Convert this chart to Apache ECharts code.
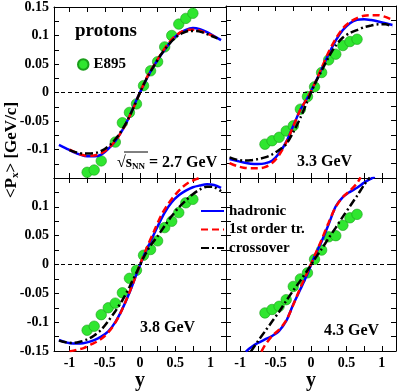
<!DOCTYPE html>
<html>
<head>
<meta charset="utf-8">
<title>protons v1</title>
<script src="https://cdn.jsdelivr.net/npm/echarts@6.0.0/dist/echarts.min.js"></script>
<style>
  html, body { margin: 0; padding: 0; background: #fff; }
  #chart { width: 399px; height: 392px; }
</style>
</head>
<body>
<div id="chart"></div>
<script>
var FONT = '"Liberation Serif", "Times New Roman", serif';

// tick and label values
var xTicks = [-1, -0.75, -0.5, -0.25, 0, 0.25, 0.5, 0.75, 1];
var xLabels = [-1, -0.5, 0, 0.5, 1];
var yTicks = [-0.15, -0.125, -0.1, -0.075, -0.05, -0.025, 0, 0.025, 0.05, 0.075, 0.1, 0.125, 0.15];
var yLabelsTop = [-0.1, -0.05, 0, 0.05, 0.1, 0.15];
var yLabelsBottom = [-0.15, -0.1, -0.05, 0, 0.05, 0.1];

// E895 data (x = rapidity, y = <Px>)
var e895_27 = [[-0.75,-0.140],[-0.65,-0.136],[-0.55,-0.120],[-0.35,-0.087],[-0.25,-0.053],[-0.15,-0.035],[-0.05,-0.020],[0.05,0.012],[0.15,0.038],[0.25,0.054],[0.35,0.080],[0.45,0.100],[0.55,0.120],[0.65,0.130],[0.75,0.139]];
var e895_33 = [[-0.65,-0.091],[-0.55,-0.085],[-0.45,-0.079],[-0.35,-0.068],[-0.25,-0.059],[-0.15,-0.030],[-0.05,-0.008],[0.05,0.009],[0.15,0.034],[0.25,0.056],[0.35,0.066],[0.45,0.081],[0.55,0.088],[0.65,0.092]];
var e895_38 = [[-0.75,-0.114],[-0.65,-0.107],[-0.55,-0.087],[-0.45,-0.075],[-0.35,-0.067],[-0.25,-0.049],[-0.15,-0.024],[-0.05,-0.010],[0.05,0.016],[0.15,0.026],[0.25,0.041],[0.35,0.064],[0.45,0.075],[0.55,0.090],[0.65,0.107],[0.75,0.113]];
var e895_43 = [[-0.65,-0.084],[-0.55,-0.078],[-0.45,-0.0725],[-0.35,-0.061],[-0.25,-0.038],[-0.15,-0.025],[-0.05,-0.0145],[0.05,0.009],[0.15,0.025],[0.25,0.048],[0.35,0.050],[0.45,0.068],[0.55,0.081],[0.65,0.087]];

// model curves, 2.7 GeV
var had_27 = [[-1.15,-0.092],[-1.05,-0.098],[-0.95,-0.104],[-0.85,-0.109],[-0.75,-0.112],[-0.65,-0.112],[-0.55,-0.109],[-0.45,-0.099],[-0.35,-0.085],[-0.25,-0.066],[-0.15,-0.042],[-0.05,-0.013],[0.05,0.013],[0.15,0.037],[0.25,0.057],[0.35,0.075],[0.45,0.091],[0.55,0.103],[0.65,0.110],[0.75,0.113],[0.85,0.111],[0.95,0.106],[1.05,0.099],[1.15,0.092]];
var fo_27 = [[-1.0,-0.100],[-0.9,-0.106],[-0.8,-0.110],[-0.7,-0.111],[-0.6,-0.109],[-0.5,-0.103],[-0.4,-0.092],[-0.3,-0.076],[-0.2,-0.055],[-0.1,-0.029],[0,0],[0.1,0.027],[0.2,0.048],[0.3,0.068],[0.4,0.086],[0.5,0.099],[0.6,0.107],[0.7,0.110],[0.8,0.110],[0.9,0.106],[1.0,0.101],[1.1,0.095]];
var co_27 = [[-1.0,-0.101],[-0.9,-0.105],[-0.8,-0.107],[-0.7,-0.107],[-0.6,-0.105],[-0.5,-0.099],[-0.4,-0.089],[-0.3,-0.074],[-0.2,-0.054],[-0.1,-0.029],[0,0],[0.1,0.026],[0.2,0.047],[0.3,0.067],[0.4,0.083],[0.5,0.096],[0.6,0.104],[0.7,0.108],[0.8,0.108],[0.9,0.105],[1.0,0.100],[1.1,0.095]];

// 3.3 GeV
var had_33 = [[-1.15,-0.117],[-1.05,-0.120],[-0.95,-0.123],[-0.85,-0.125],[-0.75,-0.1255],[-0.65,-0.1245],[-0.55,-0.120],[-0.45,-0.107],[-0.35,-0.087],[-0.25,-0.059],[-0.15,-0.031],[-0.05,-0.010],[0.05,0.014],[0.15,0.040],[0.25,0.066],[0.35,0.090],[0.45,0.108],[0.55,0.120],[0.65,0.126],[0.75,0.127],[0.85,0.1255],[0.95,0.123],[1.05,0.120],[1.15,0.117]];
var fo_33 = [[-1.15,-0.124],[-1.05,-0.129],[-0.95,-0.132],[-0.85,-0.133],[-0.75,-0.133],[-0.65,-0.131],[-0.55,-0.124],[-0.45,-0.110],[-0.35,-0.088],[-0.25,-0.060],[-0.15,-0.031],[-0.05,-0.010],[0.05,0.014],[0.15,0.042],[0.25,0.070],[0.35,0.093],[0.45,0.111],[0.55,0.122],[0.65,0.129],[0.75,0.133],[0.85,0.134],[0.95,0.134],[1.05,0.131],[1.15,0.126]];
var co_33 = [[-1.15,-0.114],[-1.05,-0.118],[-0.95,-0.1195],[-0.85,-0.119],[-0.75,-0.117],[-0.65,-0.114],[-0.55,-0.109],[-0.45,-0.101],[-0.35,-0.091],[-0.25,-0.070],[-0.15,-0.045],[-0.05,-0.016],[0.05,0.013],[0.15,0.037],[0.25,0.061],[0.35,0.081],[0.45,0.095],[0.55,0.103],[0.65,0.108],[0.75,0.113],[0.85,0.116],[0.95,0.118],[1.05,0.118],[1.15,0.114]];

// 3.8 GeV
var had_38 = [[-1.15,-0.131],[-1.05,-0.135],[-0.95,-0.137],[-0.85,-0.137],[-0.75,-0.135],[-0.65,-0.131],[-0.55,-0.125],[-0.45,-0.116],[-0.35,-0.100],[-0.25,-0.077],[-0.15,-0.049],[-0.05,-0.017],[0.05,0.014],[0.15,0.040],[0.25,0.066],[0.35,0.090],[0.45,0.108],[0.55,0.120],[0.65,0.128],[0.75,0.134],[0.85,0.137],[0.95,0.139],[1.05,0.138],[1.15,0.133]];
var fo_38 = [[-1.0,-0.151],[-0.9,-0.148],[-0.8,-0.145],[-0.7,-0.139],[-0.6,-0.133],[-0.5,-0.124],[-0.4,-0.110],[-0.3,-0.090],[-0.2,-0.063],[-0.1,-0.033],[0,0],[0.1,0.030],[0.2,0.058],[0.3,0.085],[0.4,0.105],[0.5,0.121],[0.6,0.134],[0.7,0.143],[0.8,0.148],[0.88,0.152]];
var co_38 = [[-1.15,-0.132],[-1.05,-0.135],[-0.95,-0.136],[-0.85,-0.134],[-0.75,-0.130],[-0.65,-0.123],[-0.55,-0.113],[-0.45,-0.098],[-0.35,-0.081],[-0.25,-0.062],[-0.15,-0.039],[-0.05,-0.014],[0.05,0.012],[0.15,0.033],[0.25,0.049],[0.35,0.067],[0.45,0.084],[0.55,0.099],[0.65,0.111],[0.75,0.122],[0.85,0.130],[0.95,0.135],[1.05,0.134],[1.15,0.127]];

// 4.3 GeV
var had_43 = [[-0.92,-0.151],[-0.85,-0.144],[-0.75,-0.136],[-0.65,-0.130],[-0.55,-0.124],[-0.45,-0.115],[-0.35,-0.098],[-0.25,-0.069],[-0.15,-0.043],[-0.05,-0.016],[0.05,0.014],[0.15,0.040],[0.25,0.070],[0.35,0.101],[0.45,0.117],[0.55,0.126],[0.65,0.133],[0.75,0.142],[0.85,0.149],[0.9,0.152]];
var fo_43 = [[-0.70,-0.151],[-0.65,-0.140],[-0.55,-0.124],[-0.45,-0.113],[-0.35,-0.097],[-0.25,-0.070],[-0.15,-0.040],[-0.05,-0.013],[0.05,0.015],[0.15,0.043],[0.25,0.073],[0.35,0.100],[0.45,0.117],[0.55,0.128],[0.65,0.141],[0.70,0.151]];
var co_43 = [[-0.85,-0.151],[-0.75,-0.133],[-0.65,-0.116],[-0.55,-0.099],[-0.45,-0.082],[-0.35,-0.063],[-0.25,-0.045],[-0.15,-0.028],[-0.05,-0.010],[0.05,0.009],[0.15,0.027],[0.25,0.046],[0.35,0.064],[0.45,0.083],[0.55,0.101],[0.65,0.119],[0.75,0.138],[0.83,0.151]];

var panels = [
  {e895: e895_27, had: had_27, fo: fo_27, co: co_27},
  {e895: e895_33, had: had_33, fo: fo_33, co: co_33},
  {e895: e895_38, had: had_38, fo: fo_38, co: co_38},
  {e895: e895_43, had: had_43, fo: fo_43, co: co_43}
];

var chart = echarts.init(document.getElementById('chart'), null, {renderer: 'canvas'});

var grids = [
  {left: 54, top: 6, width: 172, height: 172},
  {left: 226, top: 6, width: 170, height: 172},
  {left: 54, top: 178, width: 172, height: 173},
  {left: 226, top: 178, width: 170, height: 173}
];
var xRange = [[-1.22, 1.22], [-1.2, 1.2], [-1.22, 1.22], [-1.2, 1.2]];

var labelStyle = {color: '#000', fontFamily: FONT, fontWeight: 'bold', fontSize: 14};

function xAxisFor(g, pos, withLabels) {
  return {
    type: 'value', gridIndex: g, position: pos,
    min: xRange[g][0], max: xRange[g][1],
    axisLine: {show: true, onZero: false, lineStyle: {color: '#000', width: 1}},
    axisTick: {show: true, inside: true, length: 5, customValues: xTicks, lineStyle: {color: '#000', width: 1}},
    axisLabel: Object.assign({show: withLabels, customValues: xLabels, margin: 5}, labelStyle),
    splitLine: {show: false},
    name: withLabels ? 'y' : '', nameLocation: 'middle', nameGap: 15,
    nameTextStyle: {color: '#000', fontFamily: FONT, fontWeight: 'bold', fontSize: 20}
  };
}
function yAxisFor(g, pos, labels) {
  return {
    type: 'value', gridIndex: g, position: pos,
    min: -0.15, max: 0.15,
    axisLine: {show: true, onZero: false, lineStyle: {color: '#000', width: 1}},
    axisTick: {show: true, inside: true, length: 5, customValues: yTicks, lineStyle: {color: '#000', width: 1}},
    axisLabel: Object.assign({show: !!labels, customValues: labels || [], margin: 5}, labelStyle),
    splitLine: {show: false}
  };
}

var xAxes = [], yAxes = [], series = [];
for (var g = 0; g < 4; g++) {
  var bottomRow = g >= 2, leftCol = (g % 2 === 0);
  xAxes.push(xAxisFor(g, 'bottom', bottomRow));
  xAxes.push(xAxisFor(g, 'top', false));
  yAxes.push(yAxisFor(g, 'left', leftCol ? (bottomRow ? yLabelsBottom : yLabelsTop) : null));
  yAxes.push(yAxisFor(g, 'right', null));

  var p = panels[g];
  series.push({
    name: 'E895', type: 'scatter', xAxisIndex: 2 * g, yAxisIndex: 2 * g,
    data: p.e895, symbol: 'circle', symbolSize: 10.5, z: 2,
    itemStyle: {color: '#2fe62f', borderColor: '#1a9e1a', borderWidth: 0.6, opacity: 1},
    markLine: {
      silent: true, symbol: ['none', 'none'], label: {show: false},
      lineStyle: {color: '#000', width: 1, type: [4, 3]},
      data: [{yAxis: 0}]
    }
  });
  series.push({
    name: 'hadronic', type: 'line', xAxisIndex: 2 * g, yAxisIndex: 2 * g,
    data: p.had, smooth: 0.3, symbol: 'none', z: 3,
    lineStyle: {color: '#0000ff', width: 2.5}, itemStyle: {color: '#0000ff'}
  });
  series.push({
    name: '1st order tr.', type: 'line', xAxisIndex: 2 * g, yAxisIndex: 2 * g,
    data: p.fo, smooth: 0.3, symbol: 'none', z: 4,
    lineStyle: {color: '#ff0000', width: 2.5, type: [7, 4]}, itemStyle: {color: '#ff0000'}
  });
  series.push({
    name: 'crossover', type: 'line', xAxisIndex: 2 * g, yAxisIndex: 2 * g,
    data: p.co, smooth: 0.3, symbol: 'none', z: 5,
    lineStyle: {color: '#000000', width: 2.5, type: [8, 3, 2, 3]}, itemStyle: {color: '#000000'}
  });
}

var textStyle = {color: '#000', fontFamily: FONT, fontWeight: 'bold', fontSize: 15};

var option = {
  animation: false,
  backgroundColor: '#fff',
  grid: grids,
  xAxis: xAxes,
  yAxis: yAxes,
  legend: [
    {
      data: ['hadronic', '1st order tr.', 'crossover'],
      orient: 'vertical', left: 200, top: 203, padding: 0,
      itemWidth: 23, itemHeight: 12, itemGap: 2.5, selectedMode: false,
      itemStyle: {opacity: 0},
      textStyle: Object.assign({lineHeight: 16}, textStyle)
    },
    {
      data: ['E895'],
      left: 77, top: 57, padding: 0,
      itemWidth: 10.5, itemHeight: 10.5, selectedMode: false,
      textStyle: textStyle
    }
  ],
  graphic: [
    {type: 'text', left: 75, top: 22, style: {text: 'protons', font: 'bold 19px ' + FONT, fill: '#000'}},
    {
      type: 'text', left: 117, top: 155,
      style: {
        text: '{r|√}{s|s}{n|NN}{t| = 2.7 GeV}',
        font: 'bold 16px ' + FONT, fill: '#000',
        rich: {
          r: {fontFamily: FONT, fontSize: 16, fontWeight: 'normal'},
          s: {fontFamily: FONT, fontSize: 16, fontWeight: 'bold'},
          n: {fontFamily: FONT, fontSize: 9, fontWeight: 'bold', verticalAlign: 'bottom', padding: [6, 0, 0, 0]},
          t: {fontFamily: FONT, fontSize: 16, fontWeight: 'bold'}
        }
      }
    },
    {type: 'line', shape: {x1: 124, y1: 152, x2: 148, y2: 152}, style: {stroke: '#000', lineWidth: 1}},
    {type: 'text', left: 297, top: 154, style: {text: '3.3 GeV', font: 'bold 16px ' + FONT, fill: '#000'}},
    {type: 'text', left: 140, top: 320, style: {text: '3.8 GeV', font: 'bold 16px ' + FONT, fill: '#000'}},
    {type: 'text', left: 324, top: 323, style: {text: '4.3 GeV', font: 'bold 16px ' + FONT, fill: '#000'}},
    {
      type: 'text', x: 12, y: 150, rotation: Math.PI / 2,
      style: {
        text: '{a|<P}{b|x}{a|> [GeV/c]}',
        align: 'center', verticalAlign: 'middle', fill: '#000',
        rich: {
          a: {fontFamily: FONT, fontSize: 17, fontWeight: 'bold'},
          b: {fontFamily: FONT, fontSize: 11, fontWeight: 'bold', verticalAlign: 'bottom', padding: [6, 0, 0, 0]}
        }
      }
    }
  ],
  series: series
};
chart.setOption(option);
</script>
</body>
</html>
